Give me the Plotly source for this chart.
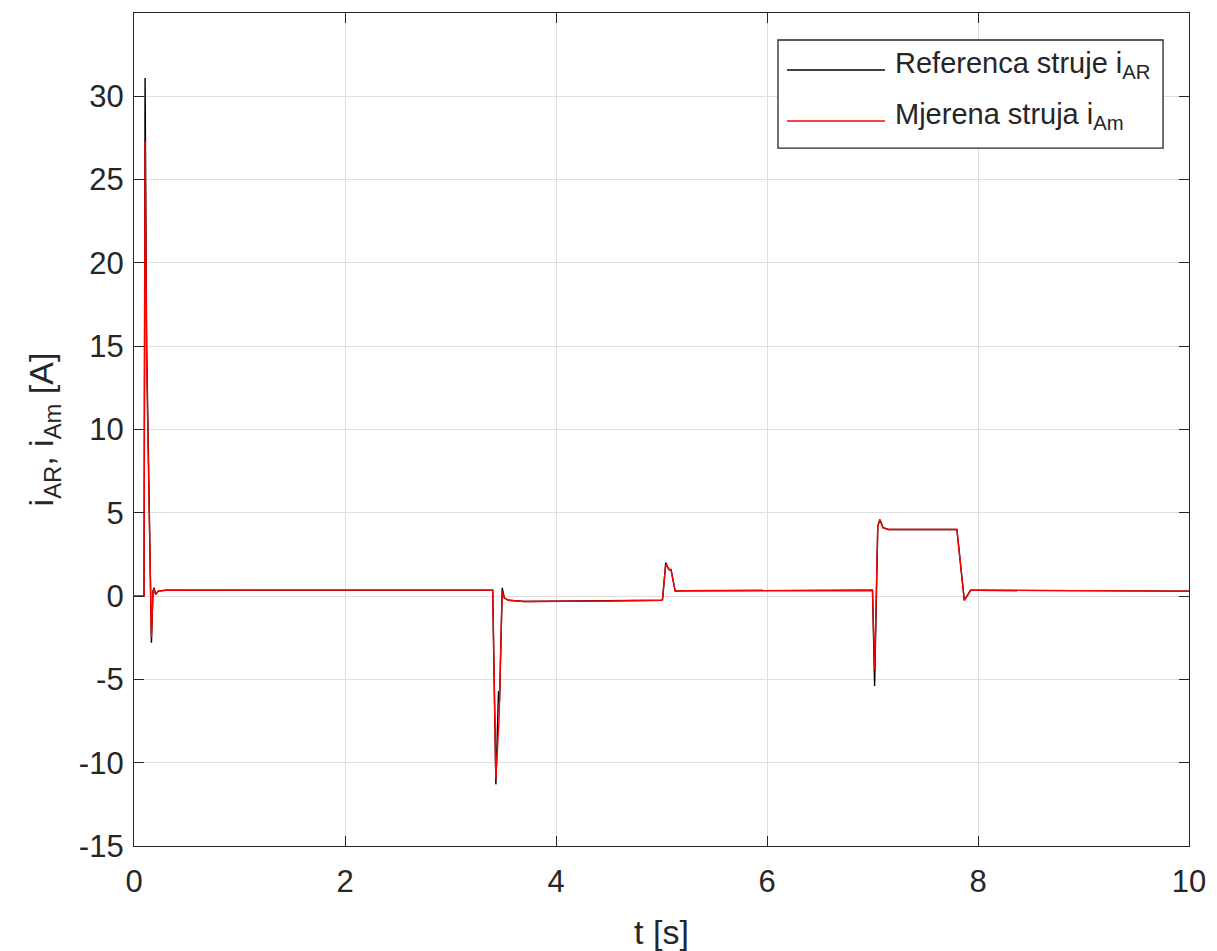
import plotly.graph_objects as go

# Reference current i_AR (black)
t_ref = [0.0, 0.095, 0.105, 0.12, 0.165, 0.18, 0.19, 0.205, 0.23, 0.30, 1.5, 3.40,
         3.43, 3.455, 3.465, 3.49, 3.51, 3.55, 3.70, 4.5, 5.00, 5.01, 5.04, 5.07, 5.09,
         5.13, 5.20, 6.5, 7.00, 7.02, 7.05, 7.07, 7.10, 7.15, 7.5, 7.80, 7.87, 7.93,
         8.00, 9.0, 10.0]
i_ref = [0.0, 0.0, 31.1, 15.0, -2.8, 0.3, 0.5, 0.1, 0.3, 0.35, 0.36, 0.36,
         -11.3, -5.7, -6.3, 0.5, -0.1, -0.25, -0.32, -0.29, -0.25, -0.2, 2.0, 1.6, 1.6,
         0.3, 0.32, 0.34, 0.35, -5.4, 4.2, 4.6, 4.1, 4.0, 4.0, 4.0, -0.25, 0.35,
         0.35, 0.33, 0.3]

# Measured current i_Am (red)
t_meas = [0.0, 0.095, 0.105, 0.12, 0.165, 0.18, 0.19, 0.205, 0.23, 0.30, 1.5, 3.40,
          3.43, 3.46, 3.49, 3.51, 3.55, 3.70, 4.5, 5.00, 5.01, 5.04, 5.07, 5.09,
          5.13, 5.20, 6.5, 7.00, 7.02, 7.05, 7.07, 7.10, 7.15, 7.5, 7.80, 7.87, 7.93,
          8.00, 9.0, 10.0]
i_meas = [0.0, 0.0, 27.3, 14.0, -2.5, 0.3, 0.45, 0.1, 0.3, 0.35, 0.36, 0.36,
          -11.0, -7.4, 0.3, -0.1, -0.25, -0.32, -0.29, -0.25, -0.2, 1.9, 1.6, 1.55,
          0.3, 0.32, 0.34, 0.35, -4.4, 4.2, 4.55, 4.1, 4.0, 4.0, 4.0, -0.25, 0.35,
          0.35, 0.33, 0.3]

series_names = ["Referenca struje i<sub>AR</sub>", "Mjerena struja i<sub>Am</sub>"]
series_colors = ["#000000", "#ff0000"]

x_ticks = [0, 2, 4, 6, 8, 10]
y_ticks = [-15, -10, -5, 0, 5, 10, 15, 20, 25, 30]
y_ticktext = ["-15", "-10", "-5", "0", "5", "10", "15", "20", "25", "30"]

FONT = "Liberation Sans, Arial, sans-serif"
AX = "#262626"
GRID = "#dfdfdf"

fig = go.Figure()
fig.add_trace(go.Scatter(x=t_ref, y=i_ref, mode="lines",
                         line=dict(color=series_colors[0], width=1.4),
                         name=series_names[0], showlegend=False))
fig.add_trace(go.Scatter(x=t_meas, y=i_meas, mode="lines",
                         line=dict(color=series_colors[1], width=1.4),
                         name=series_names[1], showlegend=False))

axis_common = dict(showline=True, linecolor=AX, linewidth=1.3, mirror="ticks",
                   ticks="inside", ticklen=10, tickcolor=AX, tickwidth=1.3,
                   showgrid=True, gridcolor=GRID, gridwidth=1, zeroline=False,
                   tickfont=dict(family=FONT, size=31, color=AX))

# Legend box drawn in paper coordinates (MATLAB-style legend)
box_x0, box_x1, box_y0, box_y1 = 0.6104, 0.9754, 0.8379, 0.9676
row_y = [0.9316, 0.8703]
text_dy = 0.0055
line_x0, line_x1, text_x = 0.619, 0.7118, 0.7194

shapes = [dict(type="rect", xref="paper", yref="paper",
               x0=box_x0, x1=box_x1, y0=box_y0, y1=box_y1,
               line=dict(color=AX, width=1.3), fillcolor="white", layer="above")]
annotations = []
for name, col, yy in zip(series_names, series_colors, row_y):
    shapes.append(dict(type="line", xref="paper", yref="paper",
                       x0=line_x0, x1=line_x1, y0=yy, y1=yy,
                       line=dict(color=col, width=1.4), layer="above"))
    annotations.append(dict(xref="paper", yref="paper", x=text_x, y=yy + text_dy,
                            xanchor="left", yanchor="middle", showarrow=False,
                            text=name, font=dict(family=FONT, size=29, color=AX)))

fig.update_layout(
    width=1209, height=943,
    margin=dict(l=126, r=28, t=5, b=105),
    paper_bgcolor="white", plot_bgcolor="white",
    font=dict(family=FONT, color=AX),
    xaxis=dict(range=[0, 10], tickvals=x_ticks, ticklabelstandoff=8,
               title=dict(text="t [s]", font=dict(family=FONT, size=34, color=AX), standoff=21),
               **axis_common),
    yaxis=dict(range=[-15, 35], tickvals=y_ticks, ticktext=y_ticktext, ticklabelstandoff=3,
               title=dict(text="i<sub>AR</sub>, i<sub>Am</sub> [A]",
                          font=dict(family=FONT, size=34, color=AX), standoff=14),
               **axis_common),
    shapes=shapes,
    annotations=annotations,
    showlegend=False,
)

fig.write_html("out.html")
